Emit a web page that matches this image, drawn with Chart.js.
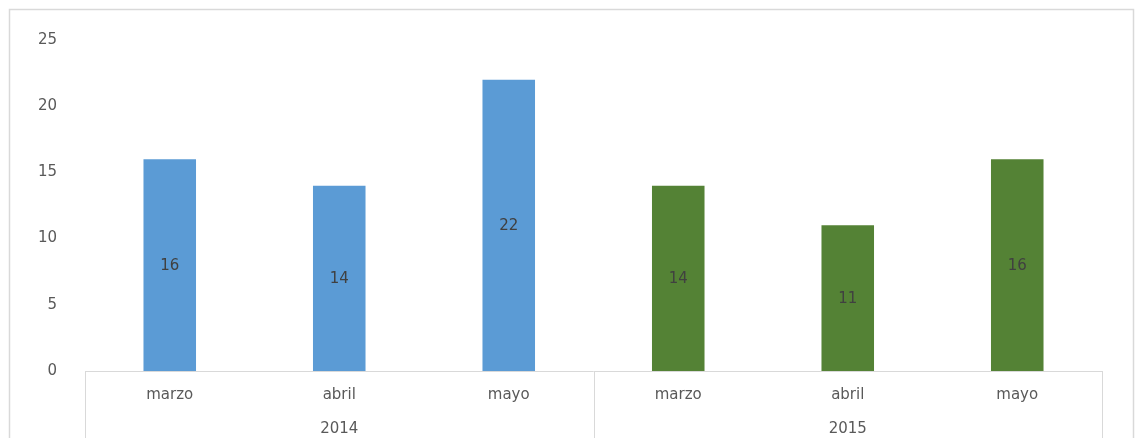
<!DOCTYPE html>
<html>
<head>
<meta charset="utf-8">
<script src="https://cdn.jsdelivr.net/npm/chart.js@4/dist/chart.umd.min.js"></script>
<style>
  html, body { margin: 0; padding: 0; background: #ffffff; }
  #wrap { position: relative; width: 1135px; height: 438px; }
</style>
</head>
<body>
<div id="wrap"><canvas id="c" width="1135" height="438"></canvas></div>
<script>
// Monthly counts, grouped by year
const months = ['marzo', 'abril', 'mayo', 'marzo', 'abril', 'mayo'];
const years = ['2014', '2015'];
const values = [16, 14, 22, 14, 11, 16];
const barColors = ['#5B9BD5', '#5B9BD5', '#5B9BD5', '#548235', '#548235', '#548235'];
const yTicks = [0, 5, 10, 15, 20, 25];

const FONT = "'DejaVu Sans', sans-serif";
const TEXT = '#595959';
const LINE = '#d9d9d9';

// Frame around the chart plus the grouped category axis lines
const framePlugin = {
  id: 'frame',
  beforeDraw(chart) {
    const ctx = chart.ctx;
    ctx.save();
    ctx.strokeStyle = LINE;
    ctx.lineWidth = 1.5;
    ctx.beginPath();
    ctx.moveTo(9.5, chart.height);
    ctx.lineTo(9.5, 9.5);
    ctx.lineTo(1133.5, 9.5);
    ctx.lineTo(1133.5, chart.height);
    ctx.stroke();
    ctx.restore();
  },
  afterDatasetsDraw(chart) {
    const ctx = chart.ctx;
    const area = chart.chartArea;
    const x = chart.scales.x;
    const n = months.length;
    const per = n / years.length;
    ctx.save();
    ctx.strokeStyle = LINE;
    ctx.lineWidth = 1;
    ctx.beginPath();
    ctx.moveTo(area.left, Math.round(area.bottom) + 0.5);
    ctx.lineTo(area.right, Math.round(area.bottom) + 0.5);
    for (let g = 0; g <= years.length; g++) {
      const idx = g * per;
      let px;
      if (idx === 0) px = area.left;
      else if (idx >= n) px = area.right;
      else px = (x.getPixelForValue(idx - 1) + x.getPixelForValue(idx)) / 2;
      px = Math.round(px) + 0.5;
      ctx.moveTo(px, area.bottom);
      ctx.lineTo(px, chart.height);
    }
    ctx.stroke();

    // value labels centred in each bar
    const meta = chart.getDatasetMeta(0);
    ctx.fillStyle = '#404040';
    ctx.font = '15px ' + FONT;
    ctx.textAlign = 'center';
    ctx.textBaseline = 'middle';
    meta.data.forEach((bar, i) => {
      const p = bar.getProps(['x', 'y', 'base'], true);
      ctx.fillText(String(values[i]), p.x, (p.y + p.base) / 2 + 1);
    });
    ctx.restore();
  }
};

new Chart(document.getElementById('c'), {
  type: 'bar',
  data: {
    labels: months,
    datasets: [{
      data: values,
      backgroundColor: barColors,
      borderWidth: 0,
      barPercentage: 0.31,
      categoryPercentage: 1.0
    }]
  },
  options: {
    responsive: false,
    animation: false,
    layout: { padding: { left: 0, right: 33, top: 40, bottom: 0 } },
    plugins: { legend: { display: false }, tooltip: { enabled: false } },
    scales: {
      y: {
        min: 0, max: 25,
        afterBuildTicks(scale) { scale.ticks = yTicks.map(v => ({ value: v })); },
        grid: { display: false },
        border: { display: false },
        ticks: { color: TEXT, font: { family: FONT, size: 15 }, padding: 20 },
        afterFit(scale) { scale.width = 85; }
      },
      x: {
        grid: { display: false },
        border: { display: false },
        ticks: { color: TEXT, font: { family: FONT, size: 15 }, padding: 7, maxRotation: 0 },
        afterFit(scale) { scale.height = 33; }
      },
      x2: {
        type: 'category',
        position: 'bottom',
        labels: years,
        offset: true,
        grid: { display: false },
        border: { display: false },
        ticks: { color: TEXT, font: { family: FONT, size: 15 }, padding: 8, maxRotation: 0 },
        afterFit(scale) { scale.height = 34; }
      }
    }
  },
  plugins: [framePlugin]
});
</script>
</body>
</html>
